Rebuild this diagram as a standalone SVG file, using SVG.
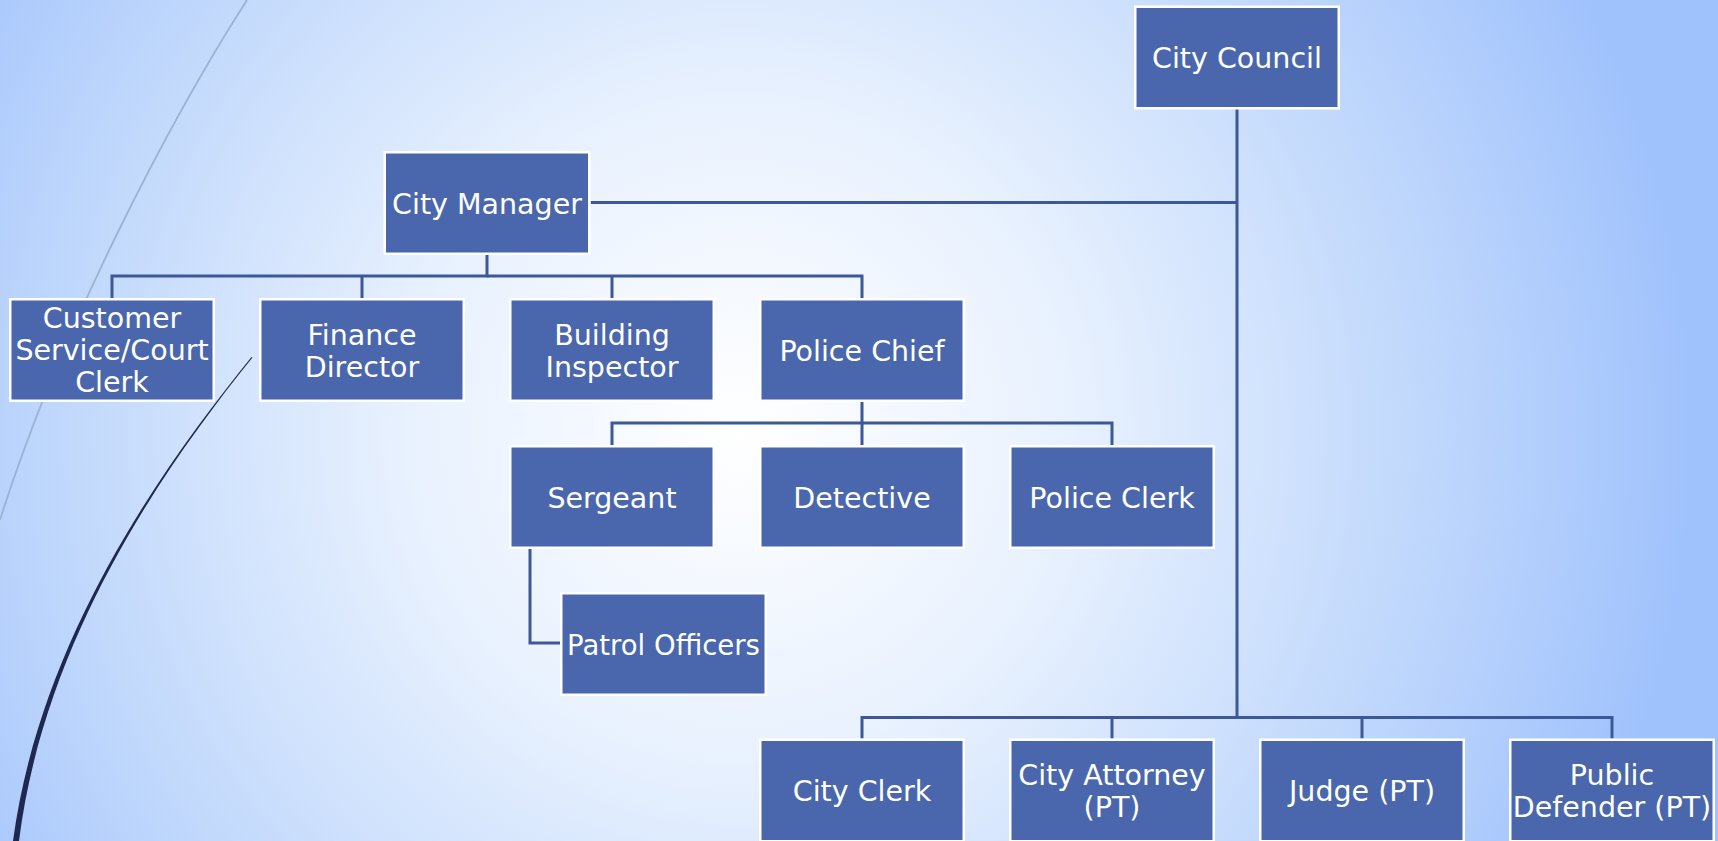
<svg xmlns="http://www.w3.org/2000/svg" width="1718" height="841" viewBox="0 0 1718 841">
<defs>
<radialGradient id="bg" gradientUnits="userSpaceOnUse" cx="740" cy="430" r="950">
<stop offset="0" stop-color="#FFFFFF"/>
<stop offset="0.35" stop-color="#E8F1FE"/>
<stop offset="0.7" stop-color="#C2D9FC"/>
<stop offset="1" stop-color="#A0C2FC"/>
</radialGradient>
<style>
.box{fill:#4A67AD;stroke:#FFFFFF;stroke-width:2.5}
.lbl{font-family:"DejaVu Sans","Liberation Sans",sans-serif;font-size:28.5px;fill:#FFFFFF;text-anchor:middle}
.con{fill:none;stroke:#3C5898;stroke-width:3}
</style>
</defs>
<rect x="0" y="0" width="1718" height="841" fill="url(#bg)"/>
<g id="decor">
<path d="M247,0 C170,120 60,330 0,520" fill="none" stroke="#9DB1D5" stroke-width="1.8"/>
<path d="M251.5,357 C160,470 40,640 13,841 L19,841 C44,641 161,471 252.5,357.5 Z" fill="#1F2850"/>
</g>
<g id="connectors">
<path class="con" d="M1237,108.5 V717.5"/>
<path class="con" d="M590.6,202.5 H1237"/>
<path class="con" d="M487,255 V276 H112 V298"/>
<path class="con" d="M487,276 H862 V298"/>
<path class="con" d="M362,276 V298"/>
<path class="con" d="M612,276 V298"/>
<path class="con" d="M862,402 V423 H612 V445"/>
<path class="con" d="M862,423 H1112 V445"/>
<path class="con" d="M862,423 V445"/>
<path class="con" d="M530,548 V643 H560"/>
<path class="con" d="M1237,717.5 H862 V738.5"/>
<path class="con" d="M1237,717.5 H1612 V738.5"/>
<path class="con" d="M1112,717.5 V738.5"/>
<path class="con" d="M1362,717.5 V738.5"/>
</g>
<g id="city-council"><rect class="box" x="1135.25" y="6.75" width="203.5" height="101.5"/><text class="lbl" x="1237" y="67.5">City Council</text></g>
<g id="city-manager"><rect class="box" x="384.75" y="152.25" width="204.5" height="101.5"/><text class="lbl" x="487" y="213.5">City Manager</text></g>
<g id="customer-service"><rect class="box" x="10.25" y="299.25" width="203.5" height="101.5"/><text class="lbl" x="112" y="328">Customer</text><text class="lbl" x="112" y="360">Service/Court</text><text class="lbl" x="112" y="391.5">Clerk</text></g>
<g id="finance-director"><rect class="box" x="260.25" y="299.25" width="203.5" height="101.5"/><text class="lbl" x="362" y="344.5">Finance</text><text class="lbl" x="362" y="376.5">Director</text></g>
<g id="building-inspector"><rect class="box" x="510.25" y="299.25" width="203.5" height="101.5"/><text class="lbl" x="612" y="344.5">Building</text><text class="lbl" x="612" y="376.5">Inspector</text></g>
<g id="police-chief"><rect class="box" x="760.25" y="299.25" width="203.5" height="101.5"/><text class="lbl" x="862" y="360.5">Police Chief</text></g>
<g id="sergeant"><rect class="box" x="510.25" y="446.25" width="203.5" height="101.5"/><text class="lbl" x="612" y="507.5">Sergeant</text></g>
<g id="detective"><rect class="box" x="760.25" y="446.25" width="203.5" height="101.5"/><text class="lbl" x="862" y="507.5">Detective</text></g>
<g id="police-clerk"><rect class="box" x="1010.25" y="446.25" width="203.5" height="101.5"/><text class="lbl" x="1112" y="507.5">Police Clerk</text></g>
<g id="patrol-officers"><rect class="box" x="561.25" y="593.25" width="204.5" height="101.5"/><text class="lbl" x="663.5" y="654.5" style="font-size:27.5px">Patrol Officers</text></g>
<g id="city-clerk"><rect class="box" x="760.25" y="739.75" width="203.5" height="101.5"/><text class="lbl" x="862" y="801">City Clerk</text></g>
<g id="city-attorney"><rect class="box" x="1010.25" y="739.75" width="203.5" height="101.5"/><text class="lbl" x="1112" y="785">City Attorney</text><text class="lbl" x="1112" y="817">(PT)</text></g>
<g id="judge"><rect class="box" x="1260.25" y="739.75" width="203.5" height="101.5"/><text class="lbl" x="1362" y="801">Judge (PT)</text></g>
<g id="public-defender"><rect class="box" x="1510.25" y="739.75" width="203.5" height="101.5"/><text class="lbl" x="1612" y="785">Public</text><text class="lbl" x="1612" y="817">Defender (PT)</text></g>
</svg>
